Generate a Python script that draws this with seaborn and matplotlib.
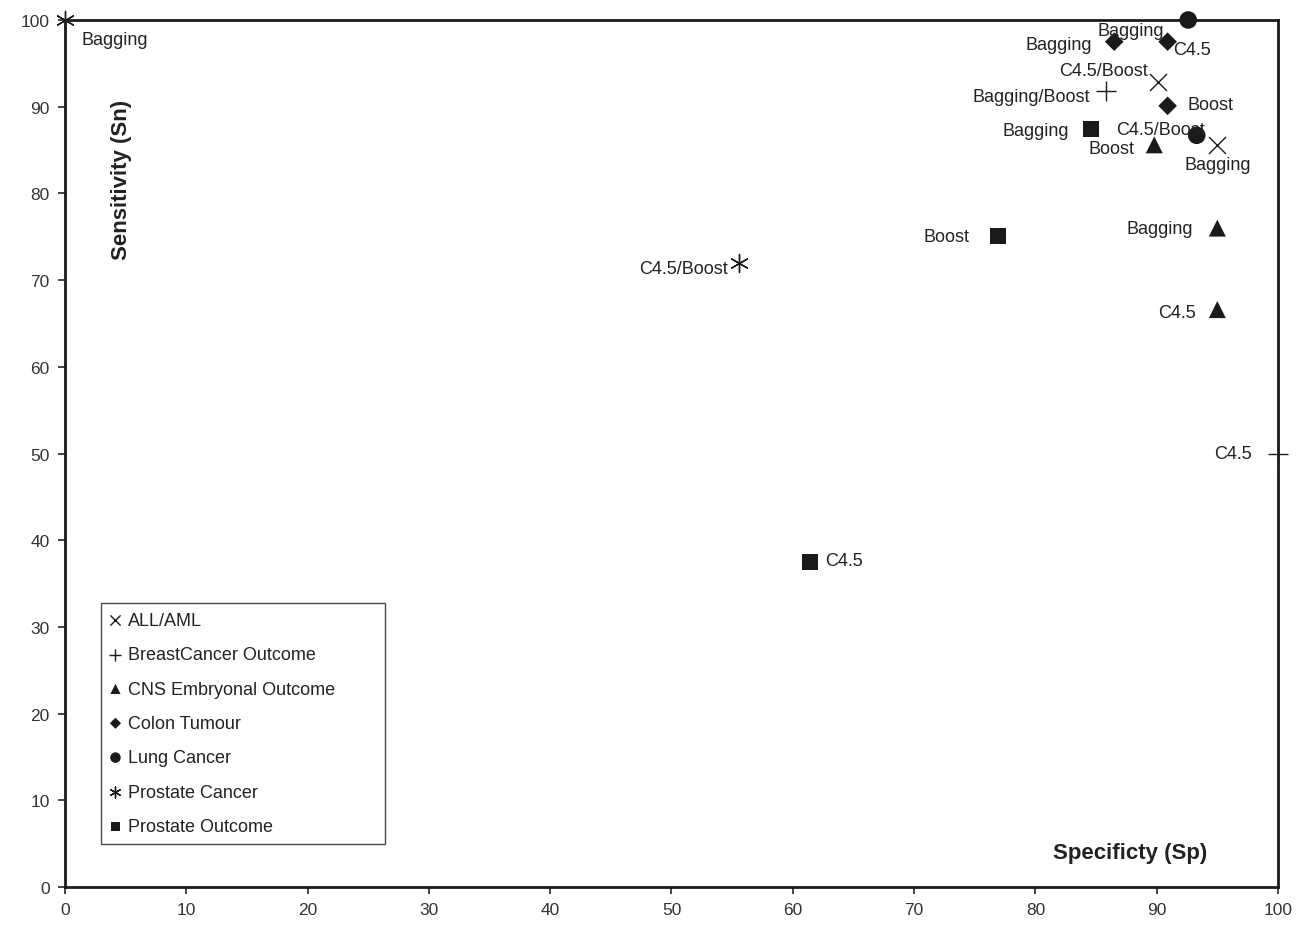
import matplotlib
matplotlib.use("Agg")
import matplotlib.pyplot as plt
import seaborn as sns
import pandas as pd

# Specificity / sensitivity results per dataset and classifier
datasets = ["ALL/AML", "BreastCancer Outcome", "CNS Embryonal Outcome",
            "Colon Tumour", "Lung Cancer", "Prostate Cancer", "Prostate Outcome"]

all_aml_sp = [90.1, 95.0]
all_aml_sn = [92.9, 85.6]
all_aml_lbl = ["C4.5/Boost", "Bagging"]

breast_sp = [85.8, 100.0]
breast_sn = [91.8, 50.0]
breast_lbl = ["Bagging/Boost", "C4.5"]

cns_sp = [89.8, 95.0, 95.0]
cns_sn = [85.6, 76.0, 66.6]
cns_lbl = ["Boost", "Bagging", "C4.5"]

colon_sp = [86.5, 90.9, 90.9]
colon_sn = [97.5, 97.5, 90.1]
colon_lbl = ["Bagging", "C4.5", "Boost"]

lung_sp = [92.6, 93.3]
lung_sn = [100.0, 86.7]
lung_lbl = ["Bagging", "C4.5/Boost"]

pcancer_sp = [0.0, 55.6]
pcancer_sn = [100.0, 72.0]
pcancer_lbl = ["Bagging", "C4.5/Boost"]

poutcome_sp = [84.6, 76.9, 61.4]
poutcome_sn = [87.4, 75.1, 37.5]
poutcome_lbl = ["Bagging", "Boost", "C4.5"]

x_ticks = list(range(0, 101, 10))
y_ticks = list(range(0, 101, 10))

series = [
    (all_aml_sp, all_aml_sn, all_aml_lbl),
    (breast_sp, breast_sn, breast_lbl),
    (cns_sp, cns_sn, cns_lbl),
    (colon_sp, colon_sn, colon_lbl),
    (lung_sp, lung_sn, lung_lbl),
    (pcancer_sp, pcancer_sn, pcancer_lbl),
    (poutcome_sp, poutcome_sn, poutcome_lbl),
]

# marker styling per dataset: (marker, size, line width, filled)
styles = [
    ("x", 150, 1.0, False),
    ("+", 220, 1.0, False),
    ("^", 150, 0, True),
    ("D", 90, 0, True),
    ("o", 160, 0, True),
    ((6, 2, 0), 170, 1.0, False),
    ("s", 130, 0, True),
]

# label placement (ha, dx, dy in pixels) for each point, series by series
label_pos = [
    [("right", -10, 11), ("center", 0, -20)],
    [("right", -16, -5), ("right", -26, 0)],
    [("right", -20, -4), ("right", -24, 0), ("right", -21, -3)],
    [("right", -22, -3), ("left", 6, -8), ("left", 20, 1)],
    [("right", -24, -11), ("left", -81, 6)],
    [("left", 17, -20), ("right", -12, -6)],
    [("right", -22, -1), ("right", -28, -1), ("left", 15, 1)],
]

frames = []
for name, (sp, sn, lbl) in zip(datasets, series):
    frames.append(pd.DataFrame({"Dataset": name, "Sp": sp, "Sn": sn, "Method": lbl}))
df = pd.concat(frames, ignore_index=True)

sns.set_theme(style="white")
plt.rcParams["font.family"] = ["Liberation Sans", "DejaVu Sans"]

fig = plt.figure(figsize=(13.05, 9.29), dpi=100)
ax = fig.add_axes([0.0498, 0.0441, 0.9295, 0.9333])

for name, (marker, size, lw, filled) in zip(datasets, styles):
    sub = df[df["Dataset"] == name]
    kw = dict(data=sub, x="Sp", y="Sn", marker=marker, s=size, ax=ax,
              label=name, clip_on=False, zorder=5)
    if filled:
        kw.update(color="#1a1a1a", edgecolor="none", linewidth=0)
    else:
        kw.update(color="#1a1a1a", linewidth=lw)
    sns.scatterplot(**kw)

for (name, (sp, sn, lbl)), pos in zip(zip(datasets, series), label_pos):
    for x, y, t, (ha, dx, dy) in zip(sp, sn, lbl, pos):
        ax.annotate(t, (x, y), xytext=(dx, dy), textcoords="offset pixels",
                    ha=ha, va="center", fontsize=13, color="#222222", zorder=6)

ax.set_xlim(0, 100)
ax.set_ylim(0, 100)
ax.set_xticks(x_ticks)
ax.set_yticks(y_ticks)
ax.set_xlabel("")
ax.set_ylabel("")
ax.tick_params(axis="both", direction="out", length=5, width=1.2,
               colors="#222222", labelsize=12.5, pad=6, labelcolor="#333333")
ax.tick_params(axis="x", bottom=True)
ax.tick_params(axis="y", left=True)
for sp_ in ax.spines.values():
    sp_.set_visible(True)
    sp_.set_color("#1a1a1a")
    sp_.set_linewidth(2.0)

ax.text(0.047, 0.817, "Sensitivity (Sn)", transform=ax.transAxes, rotation=90,
        ha="center", va="center", fontsize=16, fontweight="bold", color="#222222")
ax.text(0.878, 0.040, "Specificty (Sp)", transform=ax.transAxes,
        ha="center", va="center", fontsize=16, fontweight="bold", color="#222222")

leg = ax.legend(loc="lower left", bbox_to_anchor=(0.0297, 0.0496, 0.234, 0.2),
                mode="expand", fontsize=13,
                frameon=True, fancybox=False, markerscale=0.6, handlelength=0.6,
                handletextpad=0.4, labelspacing=0.96, borderpad=0.5,
                borderaxespad=0)
leg.get_frame().set_edgecolor("#1a1a1a")
leg.get_frame().set_linewidth(1.0)
for t in leg.get_texts():
    t.set_color("#222222")

fig.savefig("out.png", dpi=100)
